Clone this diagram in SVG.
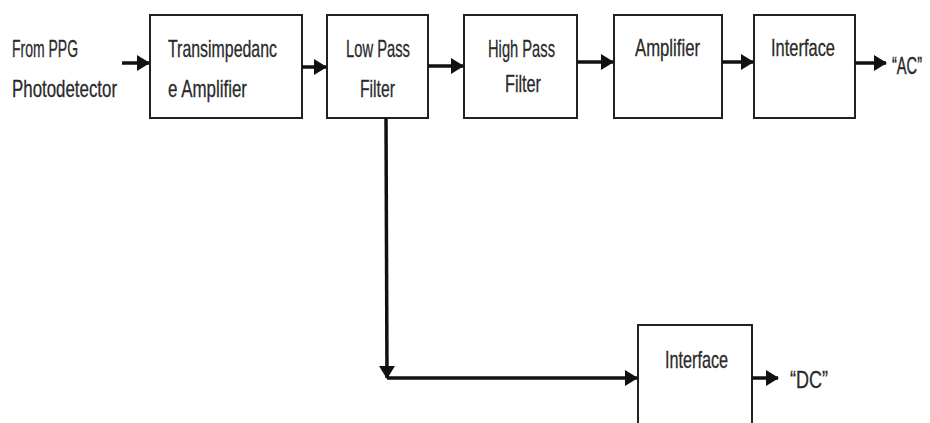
<svg xmlns="http://www.w3.org/2000/svg" width="930" height="423" viewBox="0 0 930 423">
<defs>
<marker id="ah" markerWidth="13" markerHeight="16" refX="12" refY="8" orient="auto" markerUnits="userSpaceOnUse">
<path d="M0,0 L13,8 L0,16 Z" fill="#111"/>
</marker>
<style>
rect.b{fill:#fff;stroke:#222;stroke-width:2}
text{font-family:"Liberation Sans Narrow","Liberation Sans",Arial,sans-serif;font-size:24px;fill:#2a2a2a;stroke:#2a2a2a;stroke-width:0.3}
text.s{font-size:17px}
.c{stroke:#111;stroke-width:3.5;fill:none}
</style>
</defs>
<rect width="930" height="423" fill="#fff"/>
<g id="input">
<text x="12" y="57" textLength="66" lengthAdjust="spacingAndGlyphs">From PPG</text>
<text x="12" y="97" textLength="105" lengthAdjust="spacingAndGlyphs">Photodetector</text>
</g>
<g id="tia">
<rect class="b" x="150" y="15" width="152" height="103"/>
<text x="168" y="57" textLength="109" lengthAdjust="spacingAndGlyphs">Transimpedanc</text>
<text x="168" y="97" textLength="79" lengthAdjust="spacingAndGlyphs">e Amplifier</text>
</g>
<g id="lpf">
<rect class="b" x="327" y="15" width="101" height="103"/>
<text x="346" y="57" textLength="64" lengthAdjust="spacingAndGlyphs">Low Pass</text>
<text x="360" y="97" textLength="35" lengthAdjust="spacingAndGlyphs">Filter</text>
</g>
<g id="hpf">
<rect class="b" x="464" y="15" width="113" height="103"/>
<text x="488" y="57" textLength="67" lengthAdjust="spacingAndGlyphs">High Pass</text>
<text x="505" y="92" textLength="36" lengthAdjust="spacingAndGlyphs">Filter</text>
</g>
<g id="amp">
<rect class="b" x="614" y="15" width="108" height="103"/>
<text x="635" y="56" textLength="65" lengthAdjust="spacingAndGlyphs">Amplifier</text>
</g>
<g id="iface-ac">
<rect class="b" x="754" y="15" width="101" height="103"/>
<text x="771" y="56" textLength="64" lengthAdjust="spacingAndGlyphs">Interface</text>
</g>
<g id="ac-out">
<text class="s" transform="translate(892,74) scale(1,1.4)" x="0" y="0" textLength="30" lengthAdjust="spacingAndGlyphs">“AC”</text>
</g>
<g id="iface-dc">
<rect class="b" x="638" y="325" width="114" height="110"/>
<text x="665" y="368" textLength="63" lengthAdjust="spacingAndGlyphs">Interface</text>
</g>
<g id="dc-out">
<text x="790" y="388" textLength="38" lengthAdjust="spacingAndGlyphs">“DC”</text>
</g>
<g id="connectors">
<line class="c" x1="122" y1="63" x2="149" y2="63" marker-end="url(#ah)"/>
<line class="c" x1="302" y1="67" x2="326" y2="67" marker-end="url(#ah)"/>
<line class="c" x1="428" y1="66" x2="463" y2="66" marker-end="url(#ah)"/>
<line class="c" x1="577" y1="62" x2="613" y2="62" marker-end="url(#ah)"/>
<line class="c" x1="722" y1="62" x2="753" y2="62" marker-end="url(#ah)"/>
<line class="c" x1="855" y1="63" x2="886" y2="63" marker-end="url(#ah)"/>
<line class="c" x1="386" y1="118" x2="387" y2="378" marker-end="url(#ah)"/>
<line class="c" x1="387" y1="378" x2="637" y2="378" marker-end="url(#ah)"/>
<line class="c" x1="752" y1="378" x2="778" y2="378" marker-end="url(#ah)"/>
</g>
</svg>
